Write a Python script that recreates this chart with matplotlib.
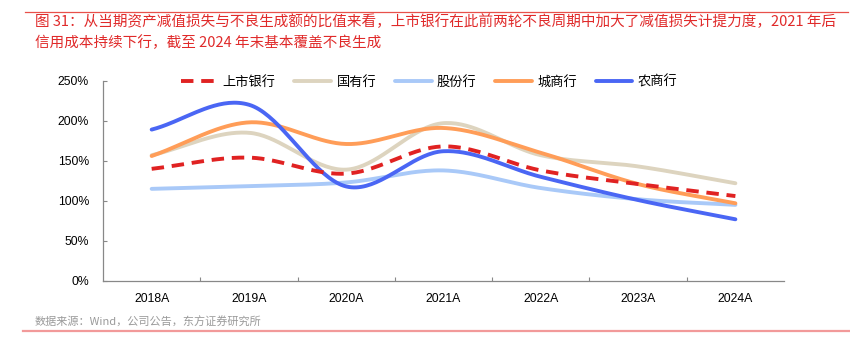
#!/usr/bin/env python3
"""Ratio of impairment losses to NPL generation, listed banks by type, 2018A-2024A."""

import matplotlib
matplotlib.use("Agg")
import matplotlib.pyplot as plt
from matplotlib.lines import Line2D
from matplotlib.ticker import FuncFormatter, FixedLocator
import numpy as np

plt.rcParams["font.family"] = ["Liberation Sans", "Noto Sans CJK SC", "DejaVu Sans"]

YEARS = ["2018A", "2019A", "2020A", "2021A", "2022A", "2023A", "2024A"]

LISTED = [1.40, 1.54, 1.34, 1.68, 1.38, 1.21, 1.06]
STATE = [1.57, 1.85, 1.39, 1.97, 1.57, 1.43, 1.22]
JOINT = [1.15, 1.185, 1.23, 1.38, 1.16, 1.02, 0.95]
CITY = [1.56, 1.98, 1.71, 1.91, 1.60, 1.21, 0.97]
RURAL = [1.89, 2.20, 1.18, 1.62, 1.30, 1.01, 0.77]

SERIES = [
    ("上市银行", LISTED, "#E02222", "--"),
    ("国有行", STATE, "#DDD4BF", "-"),
    ("股份行", JOINT, "#A9C9F8", "-"),
    ("城商行", CITY, "#FF9D58", "-"),
    ("农商行", RURAL, "#4A66F4", "-"),
]

TITLE = ("图 31：从当期资产减值损失与不良生成额的比值来看，上市银行在此前两轮不良周期中加大了减值损失计提力度，2021 年后\n"
         "信用成本持续下行，截至 2024 年末基本覆盖不良生成")
SOURCE = "数据来源：Wind，公司公告，东方证券研究所"


def smooth(y, steps=40):
    """Catmull-Rom style smoothing, similar to Excel's smoothed lines."""
    y = np.asarray(y, dtype=float)
    x = np.arange(len(y), dtype=float)
    px = np.concatenate([[2 * x[0] - x[1]], x, [2 * x[-1] - x[-2]]])
    py = np.concatenate([[2 * y[0] - y[1]], y, [2 * y[-1] - y[-2]]])
    xs, ys = [], []
    t = np.linspace(0, 1, steps)
    for i in range(1, len(px) - 2):
        p0, p1, p2, p3 = px[i - 1], px[i], px[i + 1], px[i + 2]
        q0, q1, q2, q3 = py[i - 1], py[i], py[i + 1], py[i + 2]
        # Bezier control points, tension 1/6
        c1x, c1y = p1 + (p2 - p0) / 6, q1 + (q2 - q0) / 6
        c2x, c2y = p2 - (p3 - p1) / 6, q2 - (q3 - q1) / 6
        bx = (1 - t) ** 3 * p1 + 3 * (1 - t) ** 2 * t * c1x + 3 * (1 - t) * t ** 2 * c2x + t ** 3 * p2
        by = (1 - t) ** 3 * q1 + 3 * (1 - t) ** 2 * t * c1y + 3 * (1 - t) * t ** 2 * c2y + t ** 3 * q2
        xs.append(bx)
        ys.append(by)
    return np.concatenate(xs), np.concatenate(ys)


fig = plt.figure(figsize=(8.5, 3.41), dpi=100, facecolor="white")
ax = fig.add_axes([0.1212, 0.176, 0.8012, 0.5873])

handles = []
for name, vals, color, ls in SERIES:
    sx, sy = smooth(vals)
    if ls == "--":
        ax.plot(sx, sy, color=color, lw=2.8, dashes=(3.2, 2.0), solid_capstyle="butt", zorder=3)
        h = Line2D([], [], color=color, lw=2.8, dashes=(3.2, 2.0))
    else:
        ax.plot(sx, sy, color=color, lw=2.8, solid_capstyle="round", zorder=2)
        h = Line2D([], [], color=color, lw=2.8, solid_capstyle="round")
    handles.append((h, name))

ax.set_xlim(-0.5, len(YEARS) - 0.5)
ax.set_ylim(0, 2.5)
ax.set_xticks(range(len(YEARS)))
ax.set_xticklabels(YEARS, fontsize=8.8)
ax.xaxis.set_minor_locator(FixedLocator(np.arange(0.5, len(YEARS) - 0.5, 1.0)))
ax.tick_params(axis="x", which="major", length=0, pad=9)
ax.tick_params(axis="x", which="minor", length=3, direction="in", color="#888888", width=0.8)
ax.set_yticks(np.arange(0, 2.51, 0.5))
ax.yaxis.set_major_formatter(FuncFormatter(lambda v, _: f"{v * 100:.0f}%"))
ax.tick_params(axis="y", labelsize=8.8, length=3, direction="in", color="#888888", width=0.8, pad=10)
for side in ("top", "right"):
    ax.spines[side].set_visible(False)
for side in ("left", "bottom"):
    ax.spines[side].set_color("#888888")
    ax.spines[side].set_linewidth(0.9)

fig.legend([h for h, _ in handles], [n for _, n in handles], loc="center",
           bbox_to_anchor=(429 / 850, 1 - 82 / 341), ncol=5, frameon=False,
           handlelength=2.8, handletextpad=0.4, columnspacing=1.4,
           prop={"family": ["Noto Sans CJK SC"], "size": 9.5})

fig.text(35 / 850, 1 - 32.5 / 341, TITLE, ha="left", va="center", fontsize=10.5,
         color="#E02A2A", fontweight="medium", linespacing=1.5,
         family=["Noto Sans CJK SC", "DejaVu Sans"])
fig.text(35 / 850, 1 - 322 / 341, SOURCE, ha="left", va="center", fontsize=8.0,
         color="#9A9A9A", family=["Noto Sans CJK SC", "DejaVu Sans"])

fig.add_artist(Line2D([25 / 850, 848 / 850], [1 - 12.3 / 341] * 2, color="#E8504A", lw=0.9))
fig.add_artist(Line2D([23 / 850, 850 / 850], [1 - 331 / 341] * 2, color="#F29A9A", lw=1.6))

fig.savefig("out.png", dpi=100, facecolor="white")
